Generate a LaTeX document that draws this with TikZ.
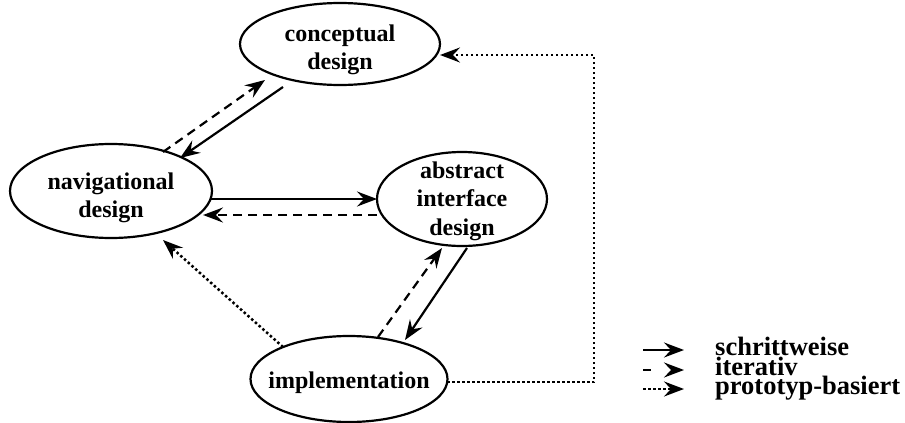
\documentclass[tikz,border=0pt]{standalone}
\usepackage{fontspec}
\setmainfont{Liberation Serif}
\usetikzlibrary{arrows.meta,calc,shapes.geometric}

\begin{document}
\begin{tikzpicture}[
  x=1pt, y=-1pt,
  >={Stealth[length=20pt,width=15pt,inset=7pt]},
  stage/.style={ellipse, draw, line width=2.2pt, inner sep=0pt},
  stagetext/.style={align=center, inner sep=0pt,
    font=\fontsize{24}{28.5}\selectfont\bfseries},
  legendtext/.style={anchor=base west, inner sep=0pt,
    font=\fontsize{26.5}{28}\selectfont\bfseries},
  solidarr/.style={->, line width=2.2pt},
  dasharr/.style={->, line width=2.2pt, dash pattern=on 9pt off 6pt},
  dotarr/.style={->, line width=2.5pt, dash pattern=on 2.5pt off 2.5pt}
]
\useasboundingbox (0,0) rectangle (905,423);

% design stages
\node[stage, minimum width=200pt, minimum height=82pt] (con) at (340,44) {};
\node[stage, minimum width=202pt, minimum height=94pt] (nav) at (111,191) {};
\node[stage, minimum width=170pt, minimum height=94pt] (abs) at (462,199) {};
\node[stage, minimum width=197pt, minimum height=86pt] (imp) at (349,379) {};

% stage labels
\node[stagetext] (conlabel) at ($(con)+(0,6)$) {conceptual\\design};
\node[stagetext] (navlabel) at ($(nav)+(0,7)$) {navigational\\design};
\node[stagetext] (abslabel) at ($(abs)+(0,2)$) {abstract\\interface\\design};
\node[stagetext] (implabel) at ($(imp)+(0,3.5)$) {implementation};

% conceptual <-> navigational
\draw[dasharr]  ($(nav)+(52,-39)$) -- ($(con)+(-75,36)$);
\draw[solidarr] ($(con)+(-57,43)$) -- ($(nav)+(69,-33)$);

% navigational <-> abstract interface
\draw[solidarr] ($(nav)+(100,8)$) -- ($(abs)+(-85,0)$);
\draw[dasharr]  ($(abs)+(-85,16)$) -- ($(nav)+(92,24)$);

% implementation <-> abstract interface
\draw[dasharr]  ($(imp)+(29,-42)$) -- ($(abs)+(-20,49)$);
\draw[solidarr] ($(abs)+(5,49)$) -- ($(imp)+(56,-39)$);

% prototype feedback
\draw[dotarr] ($(imp)+(-66,-32)$) -- ($(nav)+(52,49)$);
\coordinate (bend) at (594,382);
\draw[dotarr] ($(imp)+(98,3)$) -- (bend) |- ($(con)+(100,11)$);

% legend
\node[legendtext] (l1) at (715,355) {schrittweise};
\node[legendtext] (l2) at (715,375) {iterativ};
\node[legendtext] (l3) at (715,394) {prototyp-basiert};
\coordinate (s1) at (643,350); \coordinate (e1) at (684,350);
\coordinate (s2) at (643,370); \coordinate (e2) at (684,370);
\coordinate (s3) at (643,389); \coordinate (e3) at (684,389);
\draw[solidarr] (s1) -- (e1);
\draw[dasharr, dash pattern=on 8pt off 30pt] (s2) -- (e2);
\draw[dotarr]   (s3) -- (e3);
\end{tikzpicture}
\end{document}
